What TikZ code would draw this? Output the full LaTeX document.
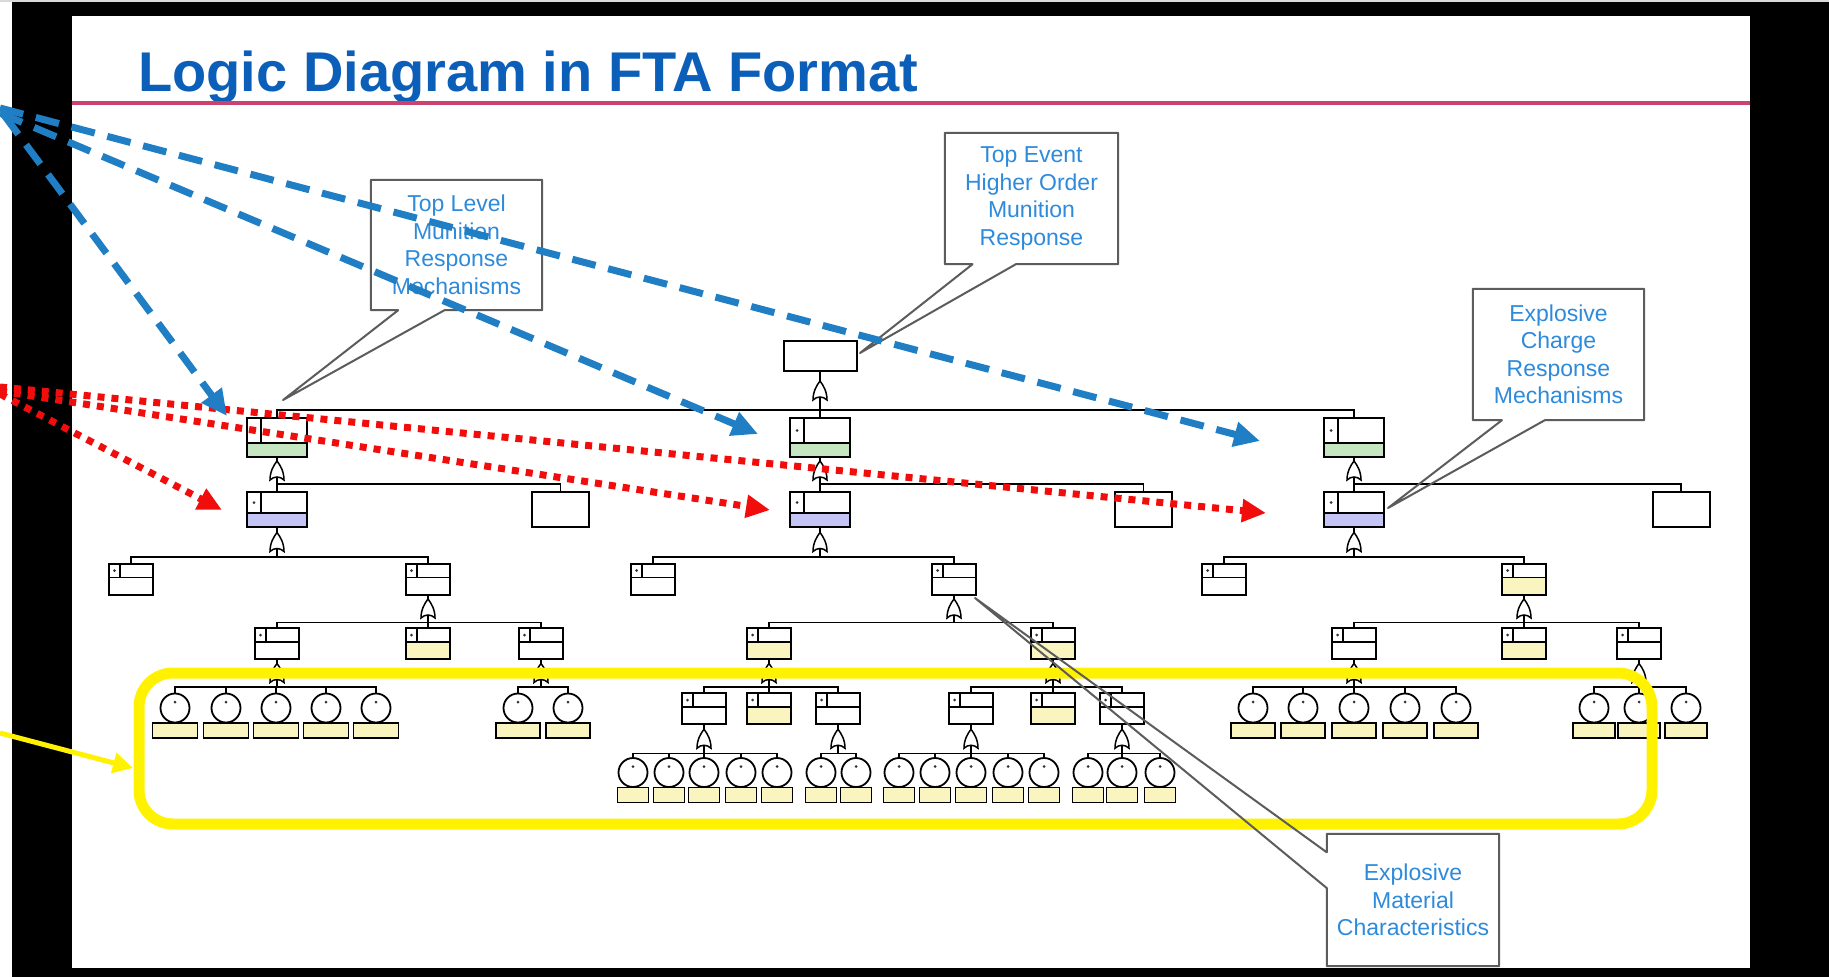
\documentclass[tikz,border=0pt]{standalone}
\usepackage{fontspec}
\setmainfont{Liberation Sans}
\usetikzlibrary{arrows.meta,calc}
\definecolor{titleblue}{HTML}{0C5FB8}
\definecolor{noteblue}{HTML}{2E8ADB}
\definecolor{arrowblue}{HTML}{1F7EC4}
\definecolor{dotred}{HTML}{F20D0D}
\definecolor{rulepink}{HTML}{C9436E}
\definecolor{evtgreen}{HTML}{C5E6C0}
\definecolor{evtpurple}{HTML}{C4C4F6}
\definecolor{evtyellow}{HTML}{FAF5C0}
\definecolor{notegray}{HTML}{5C5C5C}

\begin{document}
\begin{tikzpicture}[x=1pt, y=-1pt,
  conn/.style={line width=1.8pt},
  fta/.style n args={5}{draw, line width=2pt, fill=white, inner sep=0pt,
    minimum width=#1, minimum height=#2,
    path picture={
      \fill[#4] ($(path picture bounding box.north west)+(0,#3)$) rectangle (path picture bounding box.south east);
      \draw[line width=1.6pt] ($(path picture bounding box.north west)+(0,#3)$) -- ($(path picture bounding box.north east)+(0,#3)$);
      \draw[line width=1.6pt] ($(path picture bounding box.north west)+(#5,0)$) -- ++(0,#3);
      \fill[black!80] ($(path picture bounding box.north west)+(#5/2,#3/2)$) circle (1.5pt);
    }},
  l1evt/.style={fta={60pt}{39pt}{25}{evtgreen}{14}},
  l2evt/.style={fta={60pt}{35pt}{21}{evtpurple}{14}},
  subevt/.style={fta={44pt}{31pt}{14}{#1}{11}}, subevt/.default=white,
  topevt/.style={draw, line width=2pt, fill=white, minimum width=73pt, minimum height=30pt, inner sep=0pt},
  undev/.style={draw, line width=2pt, fill=white, minimum width=57pt, minimum height=35pt, inner sep=0pt},
  basicevt/.style={draw, circle, line width=1.8pt, fill=white, minimum size=29pt, inner sep=0pt,
    path picture={\fill[black!80] ($(path picture bounding box.center)+(0,-6)$) circle (1.5pt);}},
  refbox/.style={draw, line width=1.8pt, fill=evtyellow, minimum width=#1, minimum height=15pt, inner sep=0pt}, refbox/.default=44,
  calltext/.style={fill=white, inner sep=0pt, align=center, text=noteblue, font=\fontsize{23}{27.5}\selectfont},
  noteline/.style={draw=notegray, line width=2pt, line join=round},
  bluedash/.style={arrowblue, line width=7pt, dash pattern=on 24pt off 13pt, -{Triangle[length=26pt,width=24pt]}},
  reddot/.style={dotred, line width=7pt, dash pattern=on 7pt off 7pt, -{Triangle[length=24pt,width=22pt]}},
  orgate/.pic={\draw[line width=1.5pt, fill=white] (-7,9) .. controls (-7,0) and (-3,-6) .. (0,-10) .. controls (3,-6) and (7,0) .. (7,9) .. controls (3,5) and (-3,5) .. (-7,9) -- cycle;}
]
\useasboundingbox (0,0) rectangle (1829,977);
\fill[black] (0,0) rectangle (1829,977);
\fill[white] (72,16) rectangle (1750,968);
\fill[white] (0,0) rectangle (12,977);
\fill[black!15] (0,0) rectangle (1829,2);

\node[anchor=base west, inner sep=0pt, text=titleblue, font=\fontsize{56}{60}\selectfont\bfseries] (title) at (138,91) {Logic Diagram in FTA Format};
\draw[rulepink, line width=3.5pt] (72,103) -- (1750,103);

% tree
\node[topevt] (top) at (820,356) {};
\node[l1evt] (mL) at (277,437.5) {};
\node[l1evt] (mM) at (820,437.5) {};
\node[l1evt] (mR) at (1354,437.5) {};
\node[l2evt] (cL) at (277,509.5) {};
\node[l2evt] (cM) at (820,509.5) {};
\node[l2evt] (cR) at (1354,509.5) {};
\node[undev] (uL) at (560.5,509.5) {};
\node[undev] (uM) at (1143.5,509.5) {};
\node[undev] (uR) at (1681,509.5) {};
\node[subevt] (aL1) at (131,579) {};
\node[subevt] (aL2) at (428,579) {};
\node[subevt] (aM1) at (653,579) {};
\node[subevt] (aM2) at (954,579) {};
\node[subevt] (aR1) at (1224,579) {};
\node[subevt=evtyellow] (aR2) at (1524,579) {};
\node[subevt] (bL1) at (277,643.5) {};
\node[subevt=evtyellow] (bL2) at (428,643.5) {};
\node[subevt] (bL3) at (541,643.5) {};
\node[subevt=evtyellow] (bM1) at (769,643.5) {};
\node[subevt=evtyellow] (bM2) at (1053,643.5) {};
\node[subevt] (bR1) at (1354,643.5) {};
\node[subevt=evtyellow] (bR2) at (1524,643.5) {};
\node[subevt] (bR3) at (1639,643.5) {};
\node[subevt] (dM1) at (704,708.5) {};
\node[subevt=evtyellow] (dM2) at (769,708.5) {};
\node[subevt] (dM3) at (838,708.5) {};
\node[subevt] (dM4) at (971,708.5) {};
\node[subevt=evtyellow] (dM5) at (1053,708.5) {};
\node[subevt] (dM6) at (1122,708.5) {};

\foreach \p/\d/\kids in {top/38/{mL,mM,mR}, mL/26/{cL,uL}, mM/26/{cM,uM}, mR/26/{cR,uR},
    cL/29/{aL1,aL2}, cM/29/{aM1,aM2}, cR/29/{aR1,aR2},
    aL2/27/{bL1,bL2,bL3}, aM2/27/{bM1,bM2}, aR2/27/{bR1,bR2,bR3},
    bM1/27/{dM1,dM2,dM3}, bM2/27/{dM4,dM5,dM6}}{
  \coordinate (j\p) at ($(\p.south)+(0,\d)$);
  \draw[conn] (\p.south) -- (j\p);
  \foreach \k in \kids \draw[conn] (j\p) -| (\k.north);
  \pic at ($(\p.south)!.5!(j\p)$) {orgate};
}
\foreach \p/\d in {bL1/27, bL3/27, bR1/27, bR3/27, dM1/28.5, dM3/28.5, dM4/28.5, dM6/28.5}{
  \coordinate (j\p) at ($(\p.south)+(0,\d)$);
  \draw[conn] (\p.south) -- (j\p);
  \pic at ($(\p.south)!.5!(j\p)$) {orgate};
}
\foreach \p/\y/\w/\xs in {bL1/708/45/{175,226,276,326,376}, bL3/708/44/{518,568},
    bR1/708/44/{1253,1303,1354,1405,1456}, bR3/708/42/{1594,1639,1686},
    dM1/772.5/31/{633,669,704,741,777}, dM3/772.5/31/{821,856},
    dM4/772.5/31/{899,935,971,1008,1044}, dM6/772.5/31/{1088,1122,1160}}{
  \foreach \x [count=\i] in \xs {
    \node[basicevt] (e\p\i) at (\x,\y) {};
    \node[refbox=\w] (r\p\i) at (\x,\y+22.5) {};
    \draw[conn] (j\p) -| (e\p\i.north);
  }
}

% highlight
\draw[yellow, line width=11pt, rounded corners=34pt] (139,673) rectangle (1652,824);
\coordinate (ya) at (0,733);
\coordinate (yb) at (133,768);
\draw[yellow, line width=5pt, -{Triangle[length=20pt,width=20pt]}] (ya) -- (yb);

% callouts
\node[calltext, minimum width=171pt, minimum height=130pt] (nLevel) at (456.5,245) {Top Level\\Munition\\Response\\Mechanisms};
\coordinate (tLevel) at (283,400);
\draw[noteline] ($(nLevel.south west)!.43!(nLevel.south east)$) -- (nLevel.south east) -- (nLevel.north east) -- (nLevel.north west) -- (nLevel.south west) -- ($(nLevel.south west)!.16!(nLevel.south east)$) -- (tLevel) -- cycle;

\node[calltext, minimum width=173pt, minimum height=131pt] (nTop) at (1031.5,198.5) {Top Event\\Higher Order\\Munition\\Response};
\coordinate (tTop) at (860,353);
\draw[noteline] ($(nTop.south west)!.41!(nTop.south east)$) -- (nTop.south east) -- (nTop.north east) -- (nTop.north west) -- (nTop.south west) -- ($(nTop.south west)!.16!(nTop.south east)$) -- (tTop) -- cycle;

\node[calltext, minimum width=171pt, minimum height=131pt] (nCharge) at (1558.5,354.5) {Explosive\\Charge\\Response\\Mechanisms};
\coordinate (tCharge) at (1388,508);
\draw[noteline] ($(nCharge.south west)!.42!(nCharge.south east)$) -- (nCharge.south east) -- (nCharge.north east) -- (nCharge.north west) -- (nCharge.south west) -- ($(nCharge.south west)!.17!(nCharge.south east)$) -- (tCharge) -- cycle;

\node[calltext, minimum width=172pt, minimum height=132pt] (nMat) at (1413,900) {Explosive\\Material\\Characteristics};
\coordinate (tMat) at (975,598);
\draw[noteline] ($(nMat.north west)!.41!(nMat.south west)$) -- (nMat.south west) -- (nMat.south east) -- (nMat.north east) -- (nMat.north west) -- ($(nMat.north west)!.14!(nMat.south west)$) -- (tMat) -- cycle;

% pointers
\coordinate (rs1) at (0,387);
\coordinate (rs2) at (0,391);
\coordinate (rs3) at (0,394);
\coordinate (re1) at (1266,513);
\coordinate (re2) at (770,510);
\coordinate (re3) at (222,510);
\draw[reddot] (rs1) -- (re1);
\draw[reddot] (rs2) -- (re2);
\draw[reddot] (rs3) -- (re3);

\coordinate (bs1) at (0,108);
\coordinate (bs2) at (0,113);
\coordinate (bs3) at (4,115);
\coordinate (be1) at (1260,441);
\coordinate (be2) at (758,434);
\coordinate (be3) at (227,416);
\draw[bluedash] (bs1) -- (be1);
\draw[bluedash] (bs2) -- (be2);
\draw[bluedash] (bs3) -- (be3);
\end{tikzpicture}
\end{document}
